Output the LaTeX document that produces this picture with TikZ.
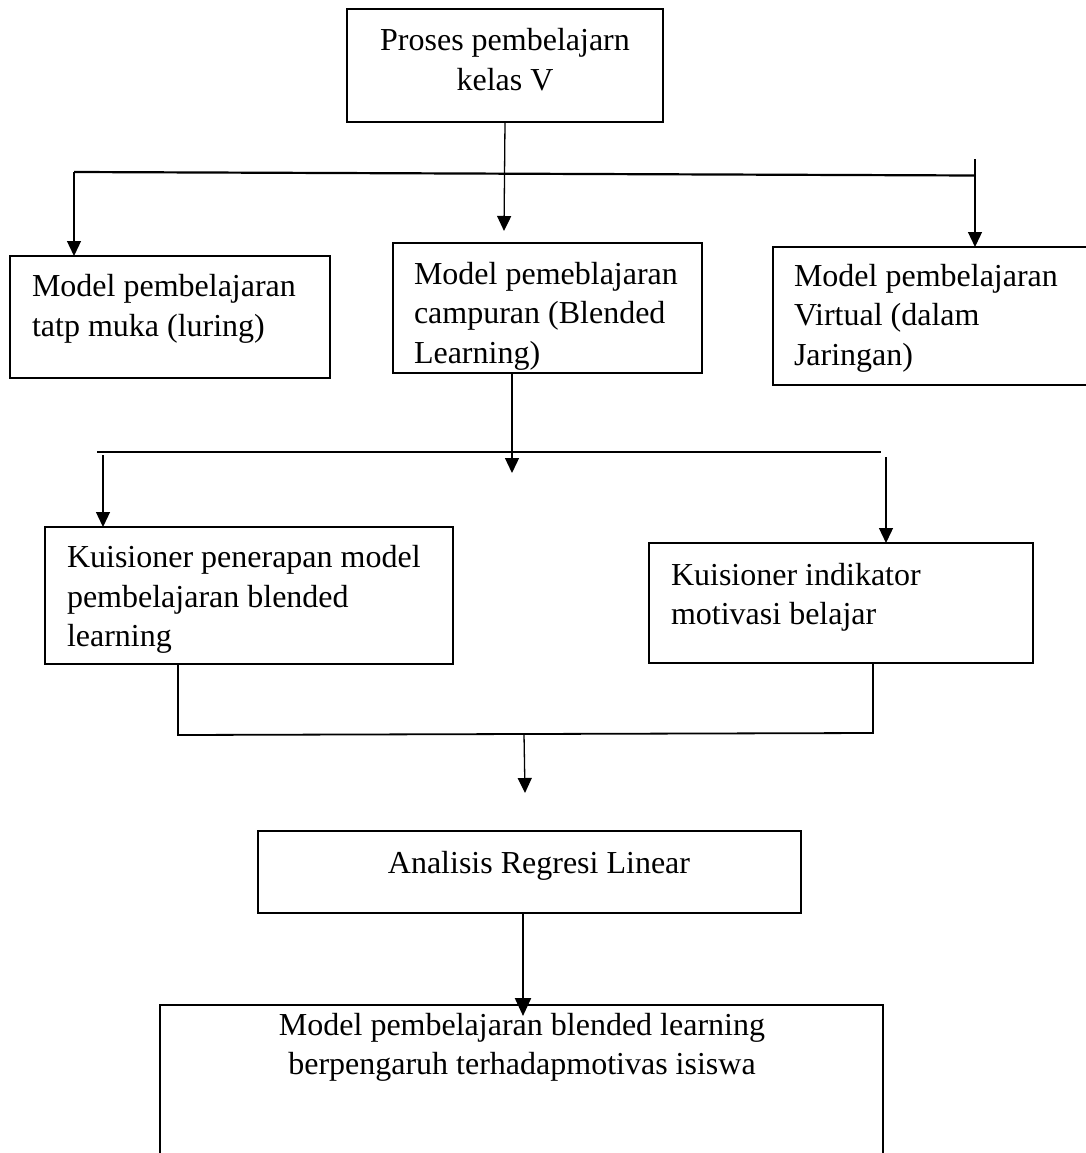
\documentclass[tikz,border=0pt]{standalone}
\usepackage{fontspec}
\setmainfont{Liberation Serif}
\usetikzlibrary{arrows.meta}
\begin{document}
\begin{tikzpicture}[x=1pt,y=-1pt,
  box/.style={draw, line width=1.6pt, inner sep=0pt, outer sep=0pt},
  txt/.style={inner sep=0pt, outer sep=0pt, font=\fontsize{32}{39.5}\selectfont},
  conn/.style={line width=1.3pt},
  arr/.style={conn, -{Triangle[length=15pt,width=14pt]}},
  bigarr/.style={line width=2.2pt, -{Triangle[length=18pt,width=16pt]}},
]
\useasboundingbox (0,0) rectangle (1086,1153);
\fill[white] (0,0) rectangle (1086,1153);

% boxes (text nodes anchored at the baseline of their last line)
\node[box, minimum width=316pt, minimum height=113pt] (top) at (505,65.5) {};
\node[txt, align=center, anchor=base] (toptxt) at (505,90.5) {Proses pembelajarn\\kelas V};

\node[box, minimum width=320pt, minimum height=122pt] (A) at (170,317) {};
\node[txt, align=left, anchor=base west] (Atxt) at (32,336) {Model pembelajaran\\tatp muka (luring)};

\node[box, minimum width=309pt, minimum height=130pt] (B) at (547.5,308) {};
\node[txt, align=left, anchor=base west] (Btxt) at (414,363) {Model pemeblajaran\\campuran (Blended\\Learning)};

\node[box, minimum width=319pt, minimum height=138pt] (C) at (932.5,316) {};
\node[txt, align=left, anchor=base west] (Ctxt) at (794,365) {Model pembelajaran\\Virtual (dalam\\Jaringan)};

\node[box, minimum width=408pt, minimum height=137pt] (D) at (249,595.5) {};
\node[txt, align=left, anchor=base west] (Dtxt) at (67,646.5) {Kuisioner penerapan model\\pembelajaran blended\\learning};

\node[box, minimum width=384pt, minimum height=120pt] (E) at (841,603) {};
\node[txt, align=left, anchor=base west] (Etxt) at (671,624.5) {Kuisioner indikator\\motivasi belajar};

\node[box, minimum width=543pt, minimum height=82pt] (F) at (529.5,872) {};
\node[txt, anchor=base] (Ftxt) at (539,873) {Analisis Regresi Linear};

\node[box, minimum width=723pt, minimum height=165pt] (G) at (521.5,1087.5) {};
\node[txt, align=center, anchor=base] (Gtxt) at (522,1074.5) {Model pembelajaran blended learning\\berpengaruh terhadapmotivas isiswa};

% coordinates
\coordinate (h1l) at (74,172);
\coordinate (h1r) at (975,175.5);
\coordinate (m1) at (504,231);
\coordinate (r1t) at (975,159);
\coordinate (m2) at (512,473);
\coordinate (h2l) at (97,452);
\coordinate (h2r) at (881,452);
\coordinate (d2) at (103,455);
\coordinate (e2) at (886,457);
\coordinate (h3l) at (178,735);
\coordinate (h3r) at (873,733);
\coordinate (m3s) at (524,734);
\coordinate (m3) at (525,793);
\coordinate (gtip) at (523,1016);

% level 1
\draw[line width=2.2pt] (h1l) -- (h1r);
\draw[arr] (h1l) -- (A.north -| h1l);
\draw[arr] (top.south) -- (m1);
\draw[arr] (r1t) -- (C.north -| r1t);

% level 2
\draw[arr] (B.south -| m2) -- (m2);
\draw[line width=2pt] (h2l) -- (h2r);
\draw[arr] (d2) -- (D.north -| d2);
\draw[arr] (e2) -- (E.north -| e2);

% level 3
\draw[conn, line width=1.8pt] (D.south -| h3l) -- (h3l) -- (h3r) -- (E.south -| h3r);
\draw[arr] (m3s) -- (m3);

% level 4
\draw[bigarr] (F.south -| gtip) -- (gtip);
\end{tikzpicture}
\end{document}
